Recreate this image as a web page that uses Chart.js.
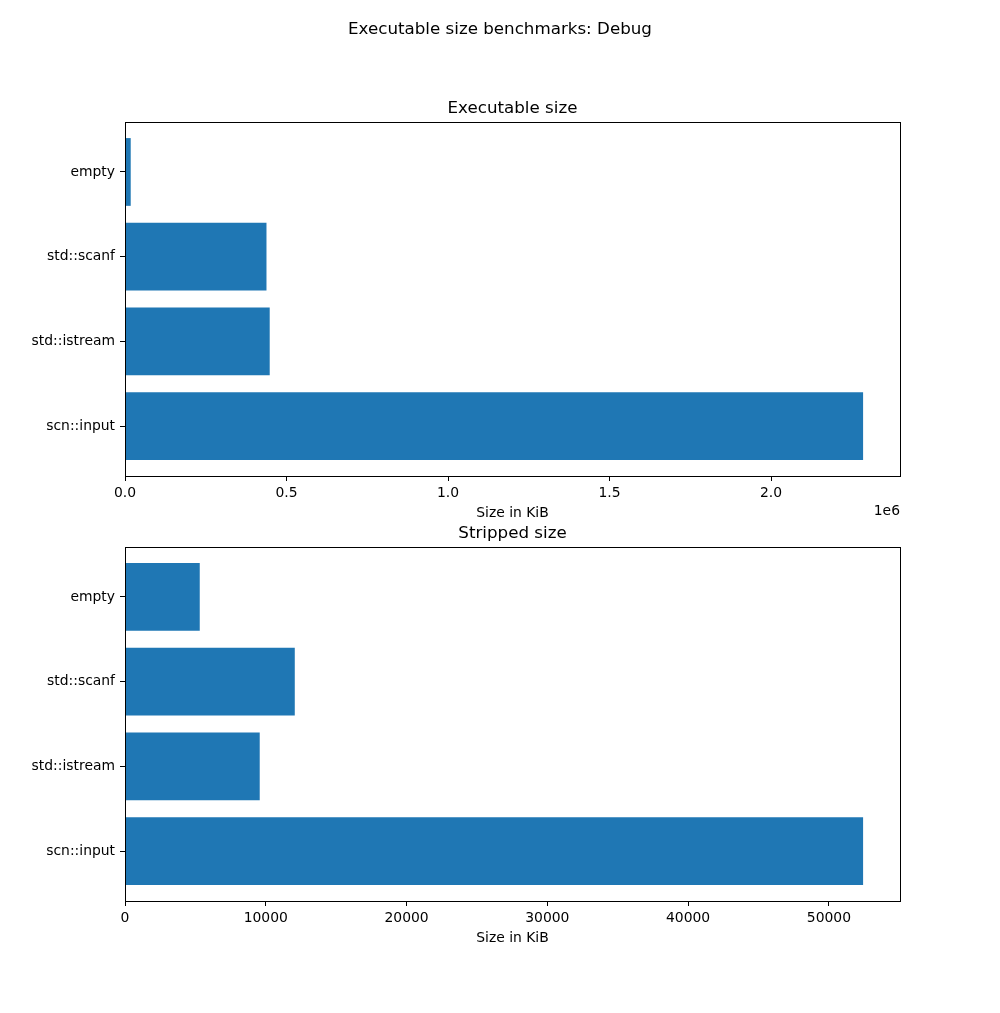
<!DOCTYPE html>
<html>
<head>
<meta charset="utf-8">
<title>Executable size benchmarks: Debug</title>
<script src="https://cdn.jsdelivr.net/npm/chart.js@4/dist/chart.umd.min.js"></script>
<style>
    html, body { margin: 0; padding: 0; background: #fff; }
    #wrap { position: relative; width: 1000px; height: 1013px; }
    #wrap canvas { position: absolute; left: 0; top: 0; }
</style>
</head>
<body>
<div id="wrap">
    <canvas id="execChart" width="1000" height="1013"></canvas>
    <canvas id="strippedChart" width="1000" height="1013"></canvas>
</div>
<script>
// Benchmark data (KiB)
const categories = ['empty', 'std::scanf', 'std::istream', 'scn::input'];
const executableSize = [17700, 438000, 448000, 2285000];
const strippedSize = [5310, 12060, 9570, 52430];

// Tick values for the x axes
const execTicks = [0, 500000, 1000000, 1500000, 2000000];
const strippedTicks = [0, 10000, 20000, 30000, 40000, 50000];

const BAR_COLOR = '#1f77b4';
const FONT = 'DejaVu Sans';
const TICK_SIZE = 13.9;
const TITLE_SIZE = 16.7;

Chart.defaults.color = '#000';
Chart.defaults.font.family = FONT;
Chart.defaults.font.size = TICK_SIZE;

// frame, axes title and extra text drawn on top of the chart area
const framePlugin = {
    id: 'frame',
    afterDraw(chart, args, opts) {
        const { ctx, chartArea: a } = chart;
        ctx.save();
        ctx.strokeStyle = '#000';
        ctx.lineWidth = 1;
        ctx.strokeRect(Math.round(a.left) + 0.5, Math.round(a.top) + 0.5,
            Math.round(a.right - a.left), Math.round(a.bottom - a.top));
        ctx.fillStyle = '#000';
        ctx.textBaseline = 'alphabetic';
        ctx.textAlign = 'center';
        ctx.font = `${TITLE_SIZE}px "${FONT}"`;
        ctx.fillText(opts.title, (a.left + a.right) / 2, a.top - 8.8);
        if (opts.suptitle) {
            ctx.fillText(opts.suptitle, 500, 34);
        }
        if (opts.offsetText) {
            ctx.font = `${TICK_SIZE}px "${FONT}"`;
            ctx.textAlign = 'right';
            ctx.fillText(opts.offsetText, a.right, a.bottom + 39);
        }
        ctx.restore();
    }
};

const tickGrid = {
    drawOnChartArea: false,
    drawTicks: true,
    tickLength: 5,
    color: '#000',
    tickColor: '#000',
    tickWidth: 1,
    offset: false
};

function makeBarChart(canvasId, values, ticks, tickFormat, top, bottom, frameOpts) {
    const xHeight = 45.5;
    const xMax = Math.max(...values) * 1.05;
    return new Chart(document.getElementById(canvasId), {
        type: 'bar',
        data: {
            datasets: [{
                data: values.map((v, i) => ({ x: v, y: i })),
                backgroundColor: BAR_COLOR,
                borderWidth: 0,
                categoryPercentage: 0.8,
                barPercentage: 1.0
            }]
        },
        options: {
            indexAxis: 'y',
            responsive: false,
            animation: false,
            layout: {
                padding: { left: 0, right: 100, top: top, bottom: 1013 - bottom - xHeight }
            },
            plugins: {
                legend: { display: false },
                tooltip: { enabled: false },
                frame: frameOpts
            },
            scales: {
                x: {
                    type: 'linear',
                    position: 'bottom',
                    offset: false,
                    min: 0,
                    max: xMax,
                    afterBuildTicks: scale => { scale.ticks = ticks.map(v => ({ value: v })); },
                    afterFit: scale => { scale.height = xHeight; },
                    grid: tickGrid,
                    border: { display: false },
                    ticks: {
                        padding: 4,
                        maxRotation: 0,
                        autoSkip: false,
                        color: '#000',
                        callback: tickFormat
                    },
                    title: {
                        display: true,
                        text: 'Size in KiB',
                        color: '#000',
                        padding: { top: 0, bottom: 0 },
                        font: { size: TICK_SIZE }
                    }
                },
                y: {
                    type: 'linear',
                    position: 'left',
                    offset: false,
                    reverse: true,
                    min: -0.59,
                    max: categories.length - 1 + 0.59,
                    afterBuildTicks: scale => { scale.ticks = categories.map((c, i) => ({ value: i })); },
                    afterFit: scale => { scale.width = 125; },
                    grid: tickGrid,
                    border: { display: false },
                    ticks: {
                        padding: 5,
                        autoSkip: false,
                        color: '#000',
                        callback: v => categories[v]
                    }
                }
            }
        },
        plugins: [framePlugin]
    });
}

makeBarChart('execChart', executableSize, execTicks,
    v => (v / 1e6).toFixed(1), 122, 476,
    { title: 'Executable size', suptitle: 'Executable size benchmarks: Debug', offsetText: '1e6' });

makeBarChart('strippedChart', strippedSize, strippedTicks,
    v => String(v), 547, 901,
    { title: 'Stripped size' });
</script>
</body>
</html>
